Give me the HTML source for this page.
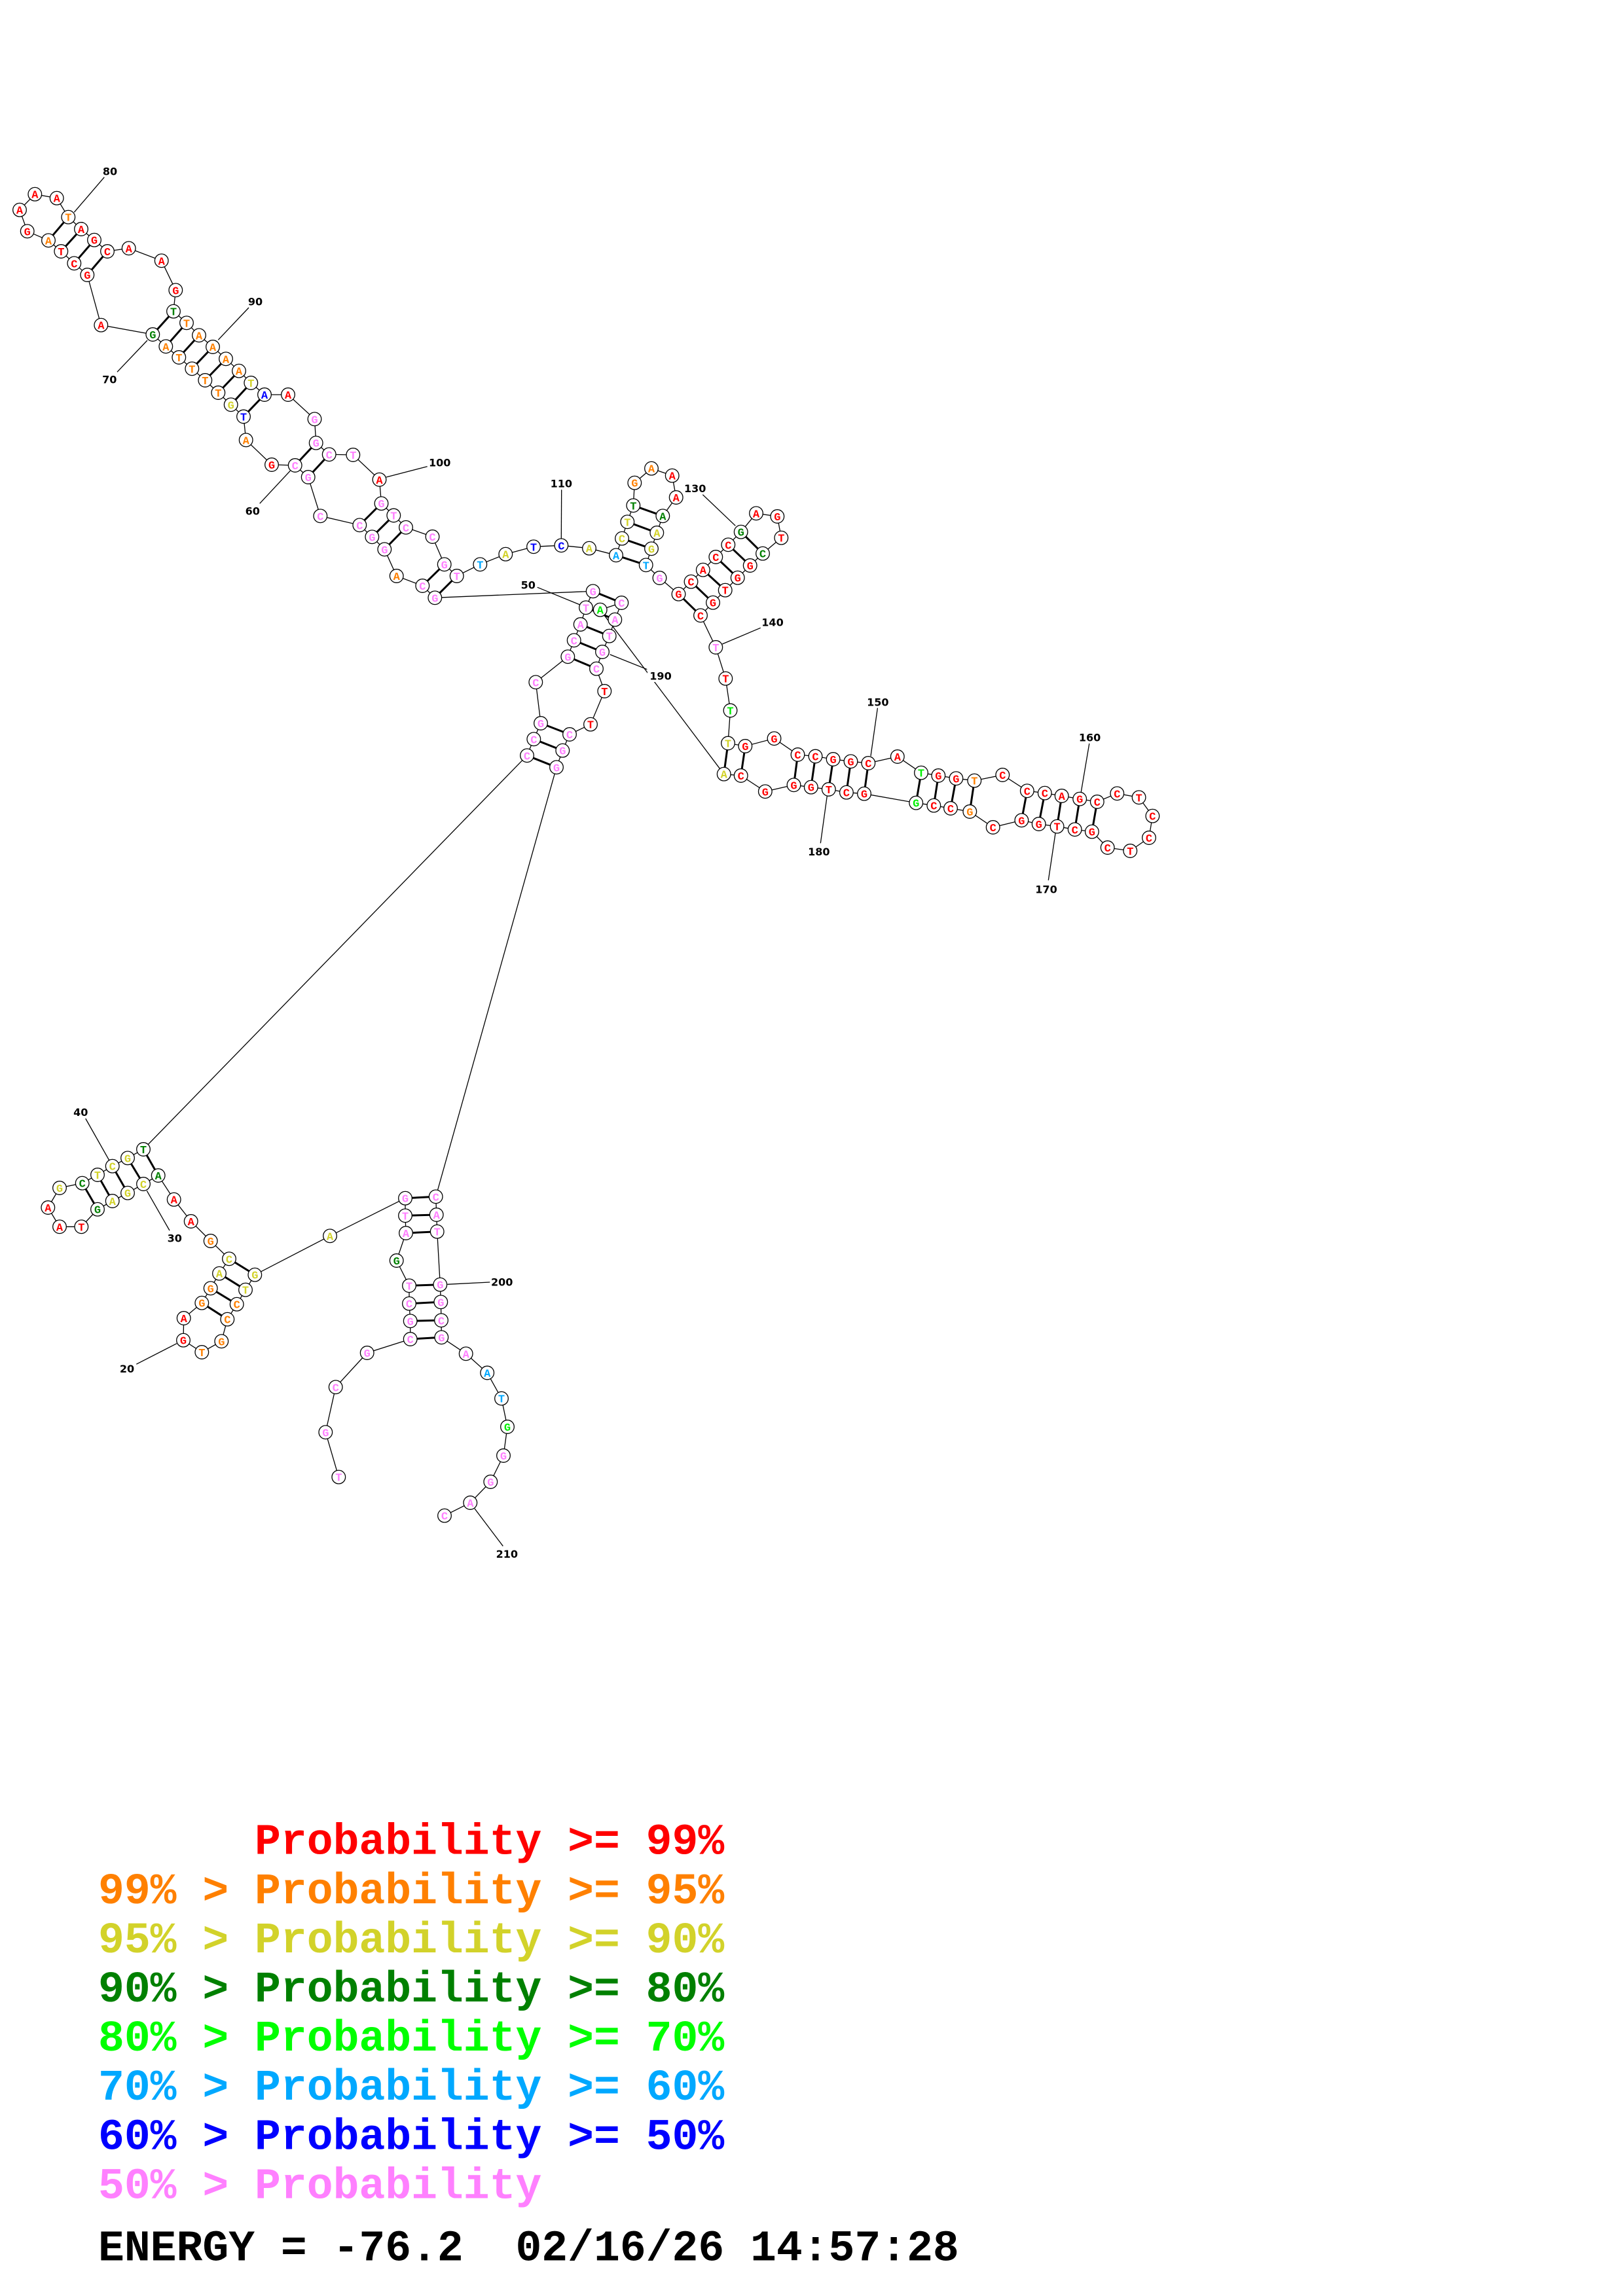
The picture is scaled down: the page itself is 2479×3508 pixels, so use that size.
<!DOCTYPE html>
<html>
<head>
<meta charset="utf-8">
<style>
html,body{margin:0;padding:0;background:#fff;}
svg{display:block;}
.nt text{font-family:"Liberation Mono","DejaVu Sans Mono",monospace;font-weight:bold;font-size:17px;text-anchor:middle;}
.R{fill:#ff0000}.O{fill:#ff8000}.Y{fill:#d2d22a}.D{fill:#008000}.L{fill:#00ee00}.S{fill:#00a8ff}.B{fill:#0000ff}.P{fill:#ff80ff}
.lab text{font-family:"DejaVu Sans","Liberation Sans",sans-serif;font-weight:bold;font-size:16px;text-anchor:middle;fill:#000;}
.leg text{font-family:"Liberation Mono","DejaVu Sans Mono",monospace;font-weight:bold;font-size:66.4px;white-space:pre;}
</style>
</head>
<body>
<svg width="2479" height="3508" viewBox="0 0 2479 3508" xmlns="http://www.w3.org/2000/svg">
<rect x="0" y="0" width="2479" height="3508" fill="#fff"/>
<!-- backbone -->
<polyline fill="none" stroke="#000" stroke-width="1.3" points="517.3,2256.7 497.3,2188.3 512.7,2119.3 560.7,2067 626.7,2046 626.7,2018.3 625,1991.7 625,1964.3 605.7,1926 620,1884 619,1857.3 619,1830.7 504,1888.3 389.3,1947.7 375,1970.7 361.7,1992.7 347.3,2015.7 338.3,2049.3 308.3,2066 280,2047.7 280.7,2014 308.3,1990.7 321.7,1968.3 335,1945.7 350,1923.3 321.7,1896 291.7,1866 265.7,1832.7 241.7,1796 219,1809 195,1822.7 171.7,1835 149,1847.7 124.3,1874.3 91,1874.3 73.3,1845 91,1815 125.7,1807.7 149,1795 171.7,1781.7 195,1769.3 219,1756 805,1154.3 815.3,1129.3 826,1105 818.3,1042.3 867.3,1003.3 876.7,978.3 886.7,954 895,928.3 905.7,903.3 664.3,913.3 645.3,895 605.7,880 587.3,839.3 568.3,820.3 549.3,802.3 489.3,788.3 470.7,729 450.7,711 415,710 375.7,672.3 372,636.5 352.7,618.3 333.3,600 313.3,581 293.3,563.3 273.3,546 253.3,529.3 233.3,511 154.3,496.7 133.3,420 113.3,402.3 93.3,384 74,367.3 41.7,353.3 30,320.7 53.3,296.7 86.7,302.7 104.3,331.7 124,350 144,366.7 164,384 196.7,379.3 246.7,398.3 268.3,443.3 265,475.7 285,493.3 304,512.3 325,530 345,548.3 365,566.7 383.3,585 404,603 440,603 480.5,640.3 482.7,676.7 502.7,694.3 539.3,695 579.5,732.8 582.5,769.2 601.3,787.5 620,805.8 660.5,820 678.7,862.3 697.7,880 733.3,862.3 772.3,846.7 815,835.3 857.3,833.3 900,837.7 941,848.3 950,822.7 958.3,797.3 967.3,772.3 969.3,737.7 995,715.7 1026.7,726.7 1032.7,760 1012.3,788.3 1003.3,814 995,838.3 986.7,863.3 1007.5,883 1036.5,907.7 1055.5,888.7 1073.8,870.7 1093.3,851 1112.3,832.3 1131.7,812.7 1155,784.3 1187.3,789 1193.3,821.7 1165,845.7 1145.7,864 1126.7,882.7 1107.7,901.7 1089,920.7 1070,940.3 1093.3,989 1108.3,1036.7 1115.5,1085.5 1112,1135.5 1138.3,1140 1182.5,1128.3 1218.5,1153 1245.5,1155.5 1272.6,1160 1299.5,1163.3 1326.3,1166 1370.8,1156 1407,1180.7 1433.3,1185 1460.4,1189.3 1488.3,1192.7 1531.3,1184 1568.8,1208.3 1595.8,1211.7 1621.7,1216 1649.2,1220.7 1675.8,1225 1706.3,1212.3 1739.6,1218.3 1760.4,1246.7 1755,1280 1726.3,1300 1691.7,1295 1667.9,1270.7 1641.7,1267.3 1614.6,1262.7 1586.7,1259 1560.4,1253.3 1516.7,1264 1481.3,1240 1452,1235 1426.3,1230.7 1399.2,1226.7 1320,1212.7 1292.9,1210.7 1265.8,1206 1238.8,1202.7 1212.5,1199.3 1168.8,1209.3 1131.7,1185 1105.7,1182.7 916.7,931.7 949.3,921 939.3,946.7 930.7,971.7 920,996 911,1021.7 923.3,1056 902,1106.7 870,1122 859.3,1146.7 850,1172.3 665.7,1828.3 666.7,1856 667.7,1881.7 672.3,1962.7 673.3,1989.3 674,2017.3 674.3,2043.3 711.7,2068.3 744.2,2097.5 766,2136.7 775,2180 769,2224 749.3,2264 718.3,2296 679,2315.7"/>
<!-- base pairs -->
<g stroke="#000" stroke-width="3" stroke-linecap="butt">
<line x1="626.7" y1="2046" x2="674.3" y2="2043.3"/>
<line x1="626.7" y1="2018.3" x2="674" y2="2017.3"/>
<line x1="625" y1="1991.7" x2="673.3" y2="1989.3"/>
<line x1="625" y1="1964.3" x2="672.3" y2="1962.7"/>
<line x1="620" y1="1884" x2="667.7" y2="1881.7"/>
<line x1="619" y1="1857.3" x2="666.7" y2="1856"/>
<line x1="619" y1="1830.7" x2="665.7" y2="1828.3"/>
<line x1="389.3" y1="1947.7" x2="350" y2="1923.3"/>
<line x1="375" y1="1970.7" x2="335" y2="1945.7"/>
<line x1="361.7" y1="1992.7" x2="321.7" y2="1968.3"/>
<line x1="347.3" y1="2015.7" x2="308.3" y2="1990.7"/>
<line x1="241.7" y1="1796" x2="219" y2="1756"/>
<line x1="219" y1="1809" x2="195" y2="1769.3"/>
<line x1="195" y1="1822.7" x2="171.7" y2="1781.7"/>
<line x1="171.7" y1="1835" x2="149" y2="1795"/>
<line x1="149" y1="1847.7" x2="125.7" y2="1807.7"/>
<line x1="805" y1="1154.3" x2="850" y2="1172.3"/>
<line x1="815.3" y1="1129.3" x2="859.3" y2="1146.7"/>
<line x1="826" y1="1105" x2="870" y2="1122"/>
<line x1="867.3" y1="1003.3" x2="911" y2="1021.7"/>
<line x1="876.7" y1="978.3" x2="920" y2="996"/>
<line x1="886.7" y1="954" x2="930.7" y2="971.7"/>
<line x1="895" y1="928.3" x2="939.3" y2="946.7"/>
<line x1="905.7" y1="903.3" x2="949.3" y2="921"/>
<line x1="664.3" y1="913.3" x2="697.7" y2="880"/>
<line x1="645.3" y1="895" x2="678.7" y2="862.3"/>
<line x1="587.3" y1="839.3" x2="620" y2="805.8"/>
<line x1="568.3" y1="820.3" x2="601.3" y2="787.5"/>
<line x1="549.3" y1="802.3" x2="582.5" y2="769.2"/>
<line x1="470.7" y1="729" x2="502.7" y2="694.3"/>
<line x1="450.7" y1="711" x2="482.7" y2="676.7"/>
<line x1="372" y1="636.5" x2="404" y2="603"/>
<line x1="352.7" y1="618.3" x2="383.3" y2="585"/>
<line x1="333.3" y1="600" x2="365" y2="566.7"/>
<line x1="313.3" y1="581" x2="345" y2="548.3"/>
<line x1="293.3" y1="563.3" x2="325" y2="530"/>
<line x1="273.3" y1="546" x2="304" y2="512.3"/>
<line x1="253.3" y1="529.3" x2="285" y2="493.3"/>
<line x1="233.3" y1="511" x2="265" y2="475.7"/>
<line x1="133.3" y1="420" x2="164" y2="384"/>
<line x1="113.3" y1="402.3" x2="144" y2="366.7"/>
<line x1="93.3" y1="384" x2="124" y2="350"/>
<line x1="74" y1="367.3" x2="104.3" y2="331.7"/>
<line x1="941" y1="848.3" x2="986.7" y2="863.3"/>
<line x1="950" y1="822.7" x2="995" y2="838.3"/>
<line x1="958.3" y1="797.3" x2="1003.3" y2="814"/>
<line x1="967.3" y1="772.3" x2="1012.3" y2="788.3"/>
<line x1="1036.5" y1="907.7" x2="1070" y2="940.3"/>
<line x1="1055.5" y1="888.7" x2="1089" y2="920.7"/>
<line x1="1073.8" y1="870.7" x2="1107.7" y2="901.7"/>
<line x1="1093.3" y1="851" x2="1126.7" y2="882.7"/>
<line x1="1112.3" y1="832.3" x2="1145.7" y2="864"/>
<line x1="1131.7" y1="812.7" x2="1165" y2="845.7"/>
<line x1="1112" y1="1135.5" x2="1105.7" y2="1182.7"/>
<line x1="1138.3" y1="1140" x2="1131.7" y2="1185"/>
<line x1="1218.5" y1="1153" x2="1212.5" y2="1199.3"/>
<line x1="1245.5" y1="1155.5" x2="1238.8" y2="1202.7"/>
<line x1="1272.6" y1="1160" x2="1265.8" y2="1206"/>
<line x1="1299.5" y1="1163.3" x2="1292.9" y2="1210.7"/>
<line x1="1326.3" y1="1166" x2="1320" y2="1212.7"/>
<line x1="1407" y1="1180.7" x2="1399.2" y2="1226.7"/>
<line x1="1433.3" y1="1185" x2="1426.3" y2="1230.7"/>
<line x1="1460.4" y1="1189.3" x2="1452" y2="1235"/>
<line x1="1488.3" y1="1192.7" x2="1481.3" y2="1240"/>
<line x1="1568.8" y1="1208.3" x2="1560.4" y2="1253.3"/>
<line x1="1595.8" y1="1211.7" x2="1586.7" y2="1259"/>
<line x1="1621.7" y1="1216" x2="1614.6" y2="1262.7"/>
<line x1="1649.2" y1="1220.7" x2="1641.7" y2="1267.3"/>
<line x1="1675.8" y1="1225" x2="1667.9" y2="1270.7"/>
</g>
<!-- label pointer lines -->
<g stroke="#000" stroke-width="1.3">
<line x1="159.3" y1="270.7" x2="113.3" y2="324.3"/>
<line x1="380" y1="470" x2="333.3" y2="519.3"/>
<line x1="179" y1="568.3" x2="225" y2="520"/>
<line x1="652.7" y1="712.7" x2="590" y2="729"/>
<line x1="396.7" y1="769.3" x2="443.3" y2="719.3"/>
<line x1="857.7" y1="748.3" x2="857.3" y2="823.3"/>
<line x1="1073.3" y1="755.7" x2="1123.3" y2="803.3"/>
<line x1="1161.7" y1="959.3" x2="1103.3" y2="984"/>
<line x1="1340.4" y1="1081.7" x2="1330" y2="1155"/>
<line x1="1663.8" y1="1136" x2="1651.3" y2="1210"/>
<line x1="1601.3" y1="1345" x2="1612.5" y2="1270"/>
<line x1="1253.3" y1="1288.3" x2="1264.6" y2="1206.7"/>
<line x1="820.7" y1="897.3" x2="888.3" y2="925"/>
<line x1="988.3" y1="1022.7" x2="931.7" y2="1000"/>
<line x1="130.7" y1="1709" x2="166.7" y2="1772.7"/>
<line x1="259" y1="1880" x2="224.3" y2="1819.3"/>
<line x1="208.3" y1="2084.3" x2="270" y2="2052.7"/>
<line x1="748.3" y1="1959" x2="683.3" y2="1962.3"/>
<line x1="725" y1="2305" x2="768.3" y2="2362.3"/>
</g>
<!-- circles -->
<g fill="#fff" stroke="#000" stroke-width="1.3">
<circle cx="517.3" cy="2256.7" r="10.3"/><circle cx="497.3" cy="2188.3" r="10.3"/><circle cx="512.7" cy="2119.3" r="10.3"/><circle cx="560.7" cy="2067" r="10.3"/><circle cx="626.7" cy="2046" r="10.3"/><circle cx="626.7" cy="2018.3" r="10.3"/><circle cx="625" cy="1991.7" r="10.3"/><circle cx="625" cy="1964.3" r="10.3"/><circle cx="605.7" cy="1926" r="10.3"/><circle cx="620" cy="1884" r="10.3"/>
<circle cx="619" cy="1857.3" r="10.3"/><circle cx="619" cy="1830.7" r="10.3"/><circle cx="504" cy="1888.3" r="10.3"/><circle cx="389.3" cy="1947.7" r="10.3"/><circle cx="375" cy="1970.7" r="10.3"/><circle cx="361.7" cy="1992.7" r="10.3"/><circle cx="347.3" cy="2015.7" r="10.3"/><circle cx="338.3" cy="2049.3" r="10.3"/><circle cx="308.3" cy="2066" r="10.3"/><circle cx="280" cy="2047.7" r="10.3"/>
<circle cx="280.7" cy="2014" r="10.3"/><circle cx="308.3" cy="1990.7" r="10.3"/><circle cx="321.7" cy="1968.3" r="10.3"/><circle cx="335" cy="1945.7" r="10.3"/><circle cx="350" cy="1923.3" r="10.3"/><circle cx="321.7" cy="1896" r="10.3"/><circle cx="291.7" cy="1866" r="10.3"/><circle cx="265.7" cy="1832.7" r="10.3"/><circle cx="241.7" cy="1796" r="10.3"/><circle cx="219" cy="1809" r="10.3"/>
<circle cx="195" cy="1822.7" r="10.3"/><circle cx="171.7" cy="1835" r="10.3"/><circle cx="149" cy="1847.7" r="10.3"/><circle cx="124.3" cy="1874.3" r="10.3"/><circle cx="91" cy="1874.3" r="10.3"/><circle cx="73.3" cy="1845" r="10.3"/><circle cx="91" cy="1815" r="10.3"/><circle cx="125.7" cy="1807.7" r="10.3"/><circle cx="149" cy="1795" r="10.3"/><circle cx="171.7" cy="1781.7" r="10.3"/>
<circle cx="195" cy="1769.3" r="10.3"/><circle cx="219" cy="1756" r="10.3"/><circle cx="805" cy="1154.3" r="10.3"/><circle cx="815.3" cy="1129.3" r="10.3"/><circle cx="826" cy="1105" r="10.3"/><circle cx="818.3" cy="1042.3" r="10.3"/><circle cx="867.3" cy="1003.3" r="10.3"/><circle cx="876.7" cy="978.3" r="10.3"/><circle cx="886.7" cy="954" r="10.3"/><circle cx="895" cy="928.3" r="10.3"/>
<circle cx="905.7" cy="903.3" r="10.3"/><circle cx="664.3" cy="913.3" r="10.3"/><circle cx="645.3" cy="895" r="10.3"/><circle cx="605.7" cy="880" r="10.3"/><circle cx="587.3" cy="839.3" r="10.3"/><circle cx="568.3" cy="820.3" r="10.3"/><circle cx="549.3" cy="802.3" r="10.3"/><circle cx="489.3" cy="788.3" r="10.3"/><circle cx="470.7" cy="729" r="10.3"/><circle cx="450.7" cy="711" r="10.3"/>
<circle cx="415" cy="710" r="10.3"/><circle cx="375.7" cy="672.3" r="10.3"/><circle cx="372" cy="636.5" r="10.3"/><circle cx="352.7" cy="618.3" r="10.3"/><circle cx="333.3" cy="600" r="10.3"/><circle cx="313.3" cy="581" r="10.3"/><circle cx="293.3" cy="563.3" r="10.3"/><circle cx="273.3" cy="546" r="10.3"/><circle cx="253.3" cy="529.3" r="10.3"/><circle cx="233.3" cy="511" r="10.3"/>
<circle cx="154.3" cy="496.7" r="10.3"/><circle cx="133.3" cy="420" r="10.3"/><circle cx="113.3" cy="402.3" r="10.3"/><circle cx="93.3" cy="384" r="10.3"/><circle cx="74" cy="367.3" r="10.3"/><circle cx="41.7" cy="353.3" r="10.3"/><circle cx="30" cy="320.7" r="10.3"/><circle cx="53.3" cy="296.7" r="10.3"/><circle cx="86.7" cy="302.7" r="10.3"/><circle cx="104.3" cy="331.7" r="10.3"/>
<circle cx="124" cy="350" r="10.3"/><circle cx="144" cy="366.7" r="10.3"/><circle cx="164" cy="384" r="10.3"/><circle cx="196.7" cy="379.3" r="10.3"/><circle cx="246.7" cy="398.3" r="10.3"/><circle cx="268.3" cy="443.3" r="10.3"/><circle cx="265" cy="475.7" r="10.3"/><circle cx="285" cy="493.3" r="10.3"/><circle cx="304" cy="512.3" r="10.3"/><circle cx="325" cy="530" r="10.3"/>
<circle cx="345" cy="548.3" r="10.3"/><circle cx="365" cy="566.7" r="10.3"/><circle cx="383.3" cy="585" r="10.3"/><circle cx="404" cy="603" r="10.3"/><circle cx="440" cy="603" r="10.3"/><circle cx="480.5" cy="640.3" r="10.3"/><circle cx="482.7" cy="676.7" r="10.3"/><circle cx="502.7" cy="694.3" r="10.3"/><circle cx="539.3" cy="695" r="10.3"/><circle cx="579.5" cy="732.8" r="10.3"/>
<circle cx="582.5" cy="769.2" r="10.3"/><circle cx="601.3" cy="787.5" r="10.3"/><circle cx="620" cy="805.8" r="10.3"/><circle cx="660.5" cy="820" r="10.3"/><circle cx="678.7" cy="862.3" r="10.3"/><circle cx="697.7" cy="880" r="10.3"/><circle cx="733.3" cy="862.3" r="10.3"/><circle cx="772.3" cy="846.7" r="10.3"/><circle cx="815" cy="835.3" r="10.3"/><circle cx="857.3" cy="833.3" r="10.3"/>
<circle cx="900" cy="837.7" r="10.3"/><circle cx="941" cy="848.3" r="10.3"/><circle cx="950" cy="822.7" r="10.3"/><circle cx="958.3" cy="797.3" r="10.3"/><circle cx="967.3" cy="772.3" r="10.3"/><circle cx="969.3" cy="737.7" r="10.3"/><circle cx="995" cy="715.7" r="10.3"/><circle cx="1026.7" cy="726.7" r="10.3"/><circle cx="1032.7" cy="760" r="10.3"/><circle cx="1012.3" cy="788.3" r="10.3"/>
<circle cx="1003.3" cy="814" r="10.3"/><circle cx="995" cy="838.3" r="10.3"/><circle cx="986.7" cy="863.3" r="10.3"/><circle cx="1007.5" cy="883" r="10.3"/><circle cx="1036.5" cy="907.7" r="10.3"/><circle cx="1055.5" cy="888.7" r="10.3"/><circle cx="1073.8" cy="870.7" r="10.3"/><circle cx="1093.3" cy="851" r="10.3"/><circle cx="1112.3" cy="832.3" r="10.3"/><circle cx="1131.7" cy="812.7" r="10.3"/>
<circle cx="1155" cy="784.3" r="10.3"/><circle cx="1187.3" cy="789" r="10.3"/><circle cx="1193.3" cy="821.7" r="10.3"/><circle cx="1165" cy="845.7" r="10.3"/><circle cx="1145.7" cy="864" r="10.3"/><circle cx="1126.7" cy="882.7" r="10.3"/><circle cx="1107.7" cy="901.7" r="10.3"/><circle cx="1089" cy="920.7" r="10.3"/><circle cx="1070" cy="940.3" r="10.3"/><circle cx="1093.3" cy="989" r="10.3"/>
<circle cx="1108.3" cy="1036.7" r="10.3"/><circle cx="1115.5" cy="1085.5" r="10.3"/><circle cx="1112" cy="1135.5" r="10.3"/><circle cx="1138.3" cy="1140" r="10.3"/><circle cx="1182.5" cy="1128.3" r="10.3"/><circle cx="1218.5" cy="1153" r="10.3"/><circle cx="1245.5" cy="1155.5" r="10.3"/><circle cx="1272.6" cy="1160" r="10.3"/><circle cx="1299.5" cy="1163.3" r="10.3"/><circle cx="1326.3" cy="1166" r="10.3"/>
<circle cx="1370.8" cy="1156" r="10.3"/><circle cx="1407" cy="1180.7" r="10.3"/><circle cx="1433.3" cy="1185" r="10.3"/><circle cx="1460.4" cy="1189.3" r="10.3"/><circle cx="1488.3" cy="1192.7" r="10.3"/><circle cx="1531.3" cy="1184" r="10.3"/><circle cx="1568.8" cy="1208.3" r="10.3"/><circle cx="1595.8" cy="1211.7" r="10.3"/><circle cx="1621.7" cy="1216" r="10.3"/><circle cx="1649.2" cy="1220.7" r="10.3"/>
<circle cx="1675.8" cy="1225" r="10.3"/><circle cx="1706.3" cy="1212.3" r="10.3"/><circle cx="1739.6" cy="1218.3" r="10.3"/><circle cx="1760.4" cy="1246.7" r="10.3"/><circle cx="1755" cy="1280" r="10.3"/><circle cx="1726.3" cy="1300" r="10.3"/><circle cx="1691.7" cy="1295" r="10.3"/><circle cx="1667.9" cy="1270.7" r="10.3"/><circle cx="1641.7" cy="1267.3" r="10.3"/><circle cx="1614.6" cy="1262.7" r="10.3"/>
<circle cx="1586.7" cy="1259" r="10.3"/><circle cx="1560.4" cy="1253.3" r="10.3"/><circle cx="1516.7" cy="1264" r="10.3"/><circle cx="1481.3" cy="1240" r="10.3"/><circle cx="1452" cy="1235" r="10.3"/><circle cx="1426.3" cy="1230.7" r="10.3"/><circle cx="1399.2" cy="1226.7" r="10.3"/><circle cx="1320" cy="1212.7" r="10.3"/><circle cx="1292.9" cy="1210.7" r="10.3"/><circle cx="1265.8" cy="1206" r="10.3"/>
<circle cx="1238.8" cy="1202.7" r="10.3"/><circle cx="1212.5" cy="1199.3" r="10.3"/><circle cx="1168.8" cy="1209.3" r="10.3"/><circle cx="1131.7" cy="1185" r="10.3"/><circle cx="1105.7" cy="1182.7" r="10.3"/><circle cx="916.7" cy="931.7" r="10.3"/><circle cx="949.3" cy="921" r="10.3"/><circle cx="939.3" cy="946.7" r="10.3"/><circle cx="930.7" cy="971.7" r="10.3"/><circle cx="920" cy="996" r="10.3"/>
<circle cx="911" cy="1021.7" r="10.3"/><circle cx="923.3" cy="1056" r="10.3"/><circle cx="902" cy="1106.7" r="10.3"/><circle cx="870" cy="1122" r="10.3"/><circle cx="859.3" cy="1146.7" r="10.3"/><circle cx="850" cy="1172.3" r="10.3"/><circle cx="665.7" cy="1828.3" r="10.3"/><circle cx="666.7" cy="1856" r="10.3"/><circle cx="667.7" cy="1881.7" r="10.3"/><circle cx="672.3" cy="1962.7" r="10.3"/>
<circle cx="673.3" cy="1989.3" r="10.3"/><circle cx="674" cy="2017.3" r="10.3"/><circle cx="674.3" cy="2043.3" r="10.3"/><circle cx="711.7" cy="2068.3" r="10.3"/><circle cx="744.2" cy="2097.5" r="10.3"/><circle cx="766" cy="2136.7" r="10.3"/><circle cx="775" cy="2180" r="10.3"/><circle cx="769" cy="2224" r="10.3"/><circle cx="749.3" cy="2264" r="10.3"/><circle cx="718.3" cy="2296" r="10.3"/>
<circle cx="679" cy="2315.7" r="10.3"/>
</g>
<!-- nucleotide letters -->
<g class="nt">
<text x="517.3" y="2262.7" class="P">T</text><text x="497.3" y="2194.3" class="P">G</text><text x="512.7" y="2125.3" class="P">C</text><text x="560.7" y="2073" class="P">G</text><text x="626.7" y="2052" class="P">C</text><text x="626.7" y="2024.3" class="P">G</text><text x="625" y="1997.7" class="P">C</text><text x="625" y="1970.3" class="P">T</text><text x="605.7" y="1932" class="D">G</text><text x="620" y="1890" class="P">A</text>
<text x="619" y="1863.3" class="P">T</text><text x="619" y="1836.7" class="P">G</text><text x="504" y="1894.3" class="Y">A</text><text x="389.3" y="1953.7" class="Y">G</text><text x="375" y="1976.7" class="Y">T</text><text x="361.7" y="1998.7" class="O">C</text><text x="347.3" y="2021.7" class="O">C</text><text x="338.3" y="2055.3" class="O">G</text><text x="308.3" y="2072" class="O">T</text><text x="280" y="2053.7" class="R">G</text>
<text x="280.7" y="2020" class="R">A</text><text x="308.3" y="1996.7" class="O">G</text><text x="321.7" y="1974.3" class="O">G</text><text x="335" y="1951.7" class="Y">A</text><text x="350" y="1929.3" class="Y">C</text><text x="321.7" y="1902" class="O">G</text><text x="291.7" y="1872" class="R">A</text><text x="265.7" y="1838.7" class="R">A</text><text x="241.7" y="1802" class="D">A</text><text x="219" y="1815" class="Y">C</text>
<text x="195" y="1828.7" class="Y">G</text><text x="171.7" y="1841" class="Y">A</text><text x="149" y="1853.7" class="D">G</text><text x="124.3" y="1880.3" class="R">T</text><text x="91" y="1880.3" class="R">A</text><text x="73.3" y="1851" class="R">A</text><text x="91" y="1821" class="Y">G</text><text x="125.7" y="1813.7" class="D">C</text><text x="149" y="1801" class="Y">T</text><text x="171.7" y="1787.7" class="Y">C</text>
<text x="195" y="1775.3" class="Y">G</text><text x="219" y="1762" class="D">T</text><text x="805" y="1160.3" class="P">C</text><text x="815.3" y="1135.3" class="P">C</text><text x="826" y="1111" class="P">G</text><text x="818.3" y="1048.3" class="P">C</text><text x="867.3" y="1009.3" class="P">G</text><text x="876.7" y="984.3" class="P">C</text><text x="886.7" y="960" class="P">A</text><text x="895" y="934.3" class="P">T</text>
<text x="905.7" y="909.3" class="P">G</text><text x="664.3" y="919.3" class="P">G</text><text x="645.3" y="901" class="P">C</text><text x="605.7" y="886" class="O">A</text><text x="587.3" y="845.3" class="P">G</text><text x="568.3" y="826.3" class="P">G</text><text x="549.3" y="808.3" class="P">C</text><text x="489.3" y="794.3" class="P">C</text><text x="470.7" y="735" class="P">G</text><text x="450.7" y="717" class="P">C</text>
<text x="415" y="716" class="R">G</text><text x="375.7" y="678.3" class="O">A</text><text x="372" y="642.5" class="B">T</text><text x="352.7" y="624.3" class="Y">G</text><text x="333.3" y="606" class="O">T</text><text x="313.3" y="587" class="O">T</text><text x="293.3" y="569.3" class="O">T</text><text x="273.3" y="552" class="O">T</text><text x="253.3" y="535.3" class="O">A</text><text x="233.3" y="517" class="D">G</text>
<text x="154.3" y="502.7" class="R">A</text><text x="133.3" y="426" class="R">G</text><text x="113.3" y="408.3" class="R">C</text><text x="93.3" y="390" class="R">T</text><text x="74" y="373.3" class="O">A</text><text x="41.7" y="359.3" class="R">G</text><text x="30" y="326.7" class="R">A</text><text x="53.3" y="302.7" class="R">A</text><text x="86.7" y="308.7" class="R">A</text><text x="104.3" y="337.7" class="O">T</text>
<text x="124" y="356" class="R">A</text><text x="144" y="372.7" class="R">G</text><text x="164" y="390" class="R">C</text><text x="196.7" y="385.3" class="R">A</text><text x="246.7" y="404.3" class="R">A</text><text x="268.3" y="449.3" class="R">G</text><text x="265" y="481.7" class="D">T</text><text x="285" y="499.3" class="O">T</text><text x="304" y="518.3" class="O">A</text><text x="325" y="536" class="O">A</text>
<text x="345" y="554.3" class="O">A</text><text x="365" y="572.7" class="O">A</text><text x="383.3" y="591" class="Y">T</text><text x="404" y="609" class="B">A</text><text x="440" y="609" class="R">A</text><text x="480.5" y="646.3" class="P">G</text><text x="482.7" y="682.7" class="P">G</text><text x="502.7" y="700.3" class="P">C</text><text x="539.3" y="701" class="P">T</text><text x="579.5" y="738.8" class="R">A</text>
<text x="582.5" y="775.2" class="P">G</text><text x="601.3" y="793.5" class="P">T</text><text x="620" y="811.8" class="P">C</text><text x="660.5" y="826" class="P">C</text><text x="678.7" y="868.3" class="P">G</text><text x="697.7" y="886" class="P">T</text><text x="733.3" y="868.3" class="S">T</text><text x="772.3" y="852.7" class="Y">A</text><text x="815" y="841.3" class="B">T</text><text x="857.3" y="839.3" class="B">C</text>
<text x="900" y="843.7" class="Y">A</text><text x="941" y="854.3" class="S">A</text><text x="950" y="828.7" class="Y">C</text><text x="958.3" y="803.3" class="Y">T</text><text x="967.3" y="778.3" class="D">T</text><text x="969.3" y="743.7" class="O">G</text><text x="995" y="721.7" class="O">A</text><text x="1026.7" y="732.7" class="R">A</text><text x="1032.7" y="766" class="R">A</text><text x="1012.3" y="794.3" class="D">A</text>
<text x="1003.3" y="820" class="Y">A</text><text x="995" y="844.3" class="Y">G</text><text x="986.7" y="869.3" class="S">T</text><text x="1007.5" y="889" class="P">G</text><text x="1036.5" y="913.7" class="R">G</text><text x="1055.5" y="894.7" class="R">C</text><text x="1073.8" y="876.7" class="R">A</text><text x="1093.3" y="857" class="R">C</text><text x="1112.3" y="838.3" class="R">C</text><text x="1131.7" y="818.7" class="D">G</text>
<text x="1155" y="790.3" class="R">A</text><text x="1187.3" y="795" class="R">G</text><text x="1193.3" y="827.7" class="R">T</text><text x="1165" y="851.7" class="D">C</text><text x="1145.7" y="870" class="R">G</text><text x="1126.7" y="888.7" class="R">G</text><text x="1107.7" y="907.7" class="R">T</text><text x="1089" y="926.7" class="R">G</text><text x="1070" y="946.3" class="R">C</text><text x="1093.3" y="995" class="P">T</text>
<text x="1108.3" y="1042.7" class="R">T</text><text x="1115.5" y="1091.5" class="L">T</text><text x="1112" y="1141.5" class="Y">T</text><text x="1138.3" y="1146" class="R">G</text><text x="1182.5" y="1134.3" class="R">G</text><text x="1218.5" y="1159" class="R">C</text><text x="1245.5" y="1161.5" class="R">C</text><text x="1272.6" y="1166" class="R">G</text><text x="1299.5" y="1169.3" class="R">G</text><text x="1326.3" y="1172" class="R">C</text>
<text x="1370.8" y="1162" class="R">A</text><text x="1407" y="1186.7" class="L">T</text><text x="1433.3" y="1191" class="R">G</text><text x="1460.4" y="1195.3" class="R">G</text><text x="1488.3" y="1198.7" class="O">T</text><text x="1531.3" y="1190" class="R">C</text><text x="1568.8" y="1214.3" class="R">C</text><text x="1595.8" y="1217.7" class="R">C</text><text x="1621.7" y="1222" class="R">A</text><text x="1649.2" y="1226.7" class="R">G</text>
<text x="1675.8" y="1231" class="R">C</text><text x="1706.3" y="1218.3" class="R">C</text><text x="1739.6" y="1224.3" class="R">T</text><text x="1760.4" y="1252.7" class="R">C</text><text x="1755" y="1286" class="R">C</text><text x="1726.3" y="1306" class="R">T</text><text x="1691.7" y="1301" class="R">C</text><text x="1667.9" y="1276.7" class="R">G</text><text x="1641.7" y="1273.3" class="R">C</text><text x="1614.6" y="1268.7" class="R">T</text>
<text x="1586.7" y="1265" class="R">G</text><text x="1560.4" y="1259.3" class="R">G</text><text x="1516.7" y="1270" class="R">C</text><text x="1481.3" y="1246" class="O">G</text><text x="1452" y="1241" class="R">C</text><text x="1426.3" y="1236.7" class="R">C</text><text x="1399.2" y="1232.7" class="L">G</text><text x="1320" y="1218.7" class="R">G</text><text x="1292.9" y="1216.7" class="R">C</text><text x="1265.8" y="1212" class="R">T</text>
<text x="1238.8" y="1208.7" class="R">G</text><text x="1212.5" y="1205.3" class="R">G</text><text x="1168.8" y="1215.3" class="R">G</text><text x="1131.7" y="1191" class="R">C</text><text x="1105.7" y="1188.7" class="Y">A</text><text x="916.7" y="937.7" class="L">A</text><text x="949.3" y="927" class="P">C</text><text x="939.3" y="952.7" class="P">A</text><text x="930.7" y="977.7" class="P">T</text><text x="920" y="1002" class="P">G</text>
<text x="911" y="1027.7" class="P">C</text><text x="923.3" y="1062" class="R">T</text><text x="902" y="1112.7" class="R">T</text><text x="870" y="1128" class="P">C</text><text x="859.3" y="1152.7" class="P">G</text><text x="850" y="1178.3" class="P">G</text><text x="665.7" y="1834.3" class="P">C</text><text x="666.7" y="1862" class="P">A</text><text x="667.7" y="1887.7" class="P">T</text><text x="672.3" y="1968.7" class="P">G</text>
<text x="673.3" y="1995.3" class="P">G</text><text x="674" y="2023.3" class="P">C</text><text x="674.3" y="2049.3" class="P">G</text><text x="711.7" y="2074.3" class="P">A</text><text x="744.2" y="2103.5" class="S">A</text><text x="766" y="2142.7" class="S">T</text><text x="775" y="2186" class="L">G</text><text x="769" y="2230" class="P">G</text><text x="749.3" y="2270" class="P">G</text><text x="718.3" y="2302" class="P">A</text>
<text x="679" y="2321.7" class="P">C</text>
</g>
<!-- white box behind 190 label -->
<rect x="989" y="1024" width="40" height="18" fill="#fff"/>
<!-- position labels -->
<g class="lab">
<text x="168" y="267.7">80</text>
<text x="390" y="466.7">90</text>
<text x="167.3" y="585.3">70</text>
<text x="671.7" y="712.7">100</text>
<text x="385.7" y="786.7">60</text>
<text x="857.3" y="744.3">110</text>
<text x="1061.7" y="752">130</text>
<text x="1180" y="956.7">140</text>
<text x="1340.8" y="1078.3">150</text>
<text x="1664.6" y="1132.7">160</text>
<text x="1598" y="1364.3">170</text>
<text x="1250.8" y="1307">180</text>
<text x="806.7" y="899.3">50</text>
<text x="1009" y="1038.7">190</text>
<text x="123.3" y="1705">40</text>
<text x="266.7" y="1897.7">30</text>
<text x="194" y="2097">20</text>
<text x="766.7" y="1964.3">200</text>
<text x="774.3" y="2380">210</text>
</g>
<!-- legend -->
<g class="leg" xml:space="preserve">
<text x="150" y="2832.7" fill="#ff0000">      Probability &gt;= 99%</text>
<text x="150" y="2907.8" fill="#ff8000">99% &gt; Probability &gt;= 95%</text>
<text x="150" y="2982.9" fill="#d2d22a">95% &gt; Probability &gt;= 90%</text>
<text x="150" y="3058" fill="#008000">90% &gt; Probability &gt;= 80%</text>
<text x="150" y="3133.1" fill="#00ff00">80% &gt; Probability &gt;= 70%</text>
<text x="150" y="3208.2" fill="#00a8ff">70% &gt; Probability &gt;= 60%</text>
<text x="150" y="3283.3" fill="#0000ff">60% &gt; Probability &gt;= 50%</text>
<text x="150" y="3358.4" fill="#ff80ff">50% &gt; Probability</text>
<text x="150" y="3453.3" fill="#000000">ENERGY = -76.2  02/16/26 14:57:28</text>
</g>
</svg>
</body>
</html>
